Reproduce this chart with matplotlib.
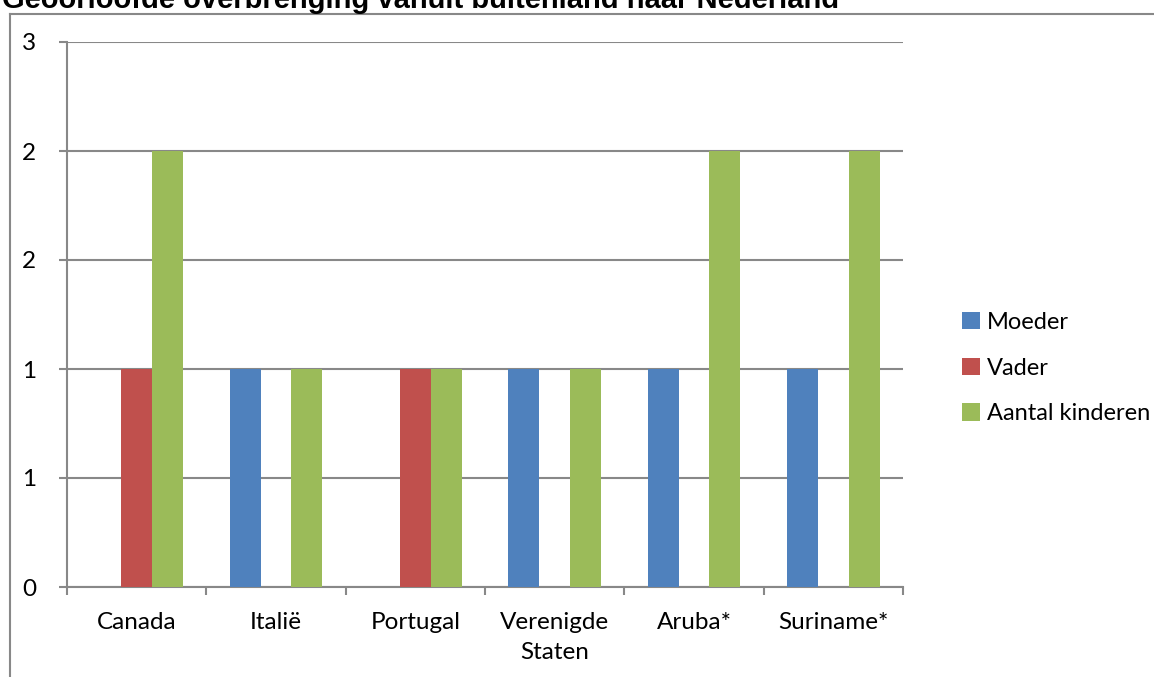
import matplotlib.pyplot as plt
import numpy as np
from matplotlib.lines import Line2D

# Data
landen = ["Canada", "Italië", "Portugal", "Verenigde\nStaten", "Aruba*", "Suriname*"]
moeder = [0, 1, 0, 1, 1, 1]
vader = [1, 0, 1, 0, 0, 0]
kinderen = [2, 1, 1, 1, 2, 2]
y_ticks = [0, 0.5, 1, 1.5, 2, 2.5]
y_labels = ["0", "1", "1", "2", "2", "3"]

series = [("Moeder", moeder, "#4F81BD"),
          ("Vader", vader, "#C0504D"),
          ("Aantal kinderen", kinderen, "#9BBB59")]

plt.rcParams['font.family'] = ['Lato', 'DejaVu Sans']
W, H = 1154, 677
fig = plt.figure(figsize=(W / 100, H / 100), dpi=100)
ax = fig.add_axes([67 / W, 1 - 587 / H, (903 - 67) / W, (587 - 42) / H])

x = np.arange(len(landen))
bw = 1 / 4.5  # gap width 150%
for i, (name, vals, col) in enumerate(series):
    ax.bar(x + (i - 1) * bw, vals, width=bw, color=col, label=name, zorder=3)

ax.set_xlim(-0.5, len(landen) - 0.5)
ax.set_ylim(0, 2.5)
ax.set_yticks(y_ticks)
ax.set_yticklabels(y_labels)
ax.yaxis.grid(True, color="#888888", linewidth=1.5, zorder=0)
ax.set_xticks(x)
ax.set_xticklabels(landen, linespacing=1.55)
ax.set_xticks(np.arange(len(landen) + 1) - 0.5, minor=True)
ax.tick_params(axis='x', which='major', length=0, pad=18, labelsize=17.5)
ax.tick_params(axis='x', which='minor', length=6, width=1.5, color="#888888")
ax.tick_params(axis='y', length=6, width=1.5, color="#888888", pad=16, labelsize=17.5)

for s in ['top', 'right']:
    ax.spines[s].set_visible(False)
for s in ['left', 'bottom']:
    ax.spines[s].set_color("#888888")
    ax.spines[s].set_linewidth(1.5)

ax.legend(loc='center left', bbox_to_anchor=(953 / W, 1 - 368 / H),
          bbox_transform=fig.transFigure, frameon=False, fontsize=17,
          handlelength=0.75, handleheight=0.75, handletextpad=0.3,
          labelspacing=1.05, borderaxespad=0)

# outer chart border (partly cropped)
fig.add_artist(Line2D([10 / W, 10 / W], [0, 1 - 14 / H], color="#888888", lw=1.5))
fig.add_artist(Line2D([10 / W, 1], [1 - 14 / H, 1 - 14 / H], color="#888888", lw=1.5))

fig.text(2 / W, 1 - 8 / H, "Geoorloofde overbrenging vanuit buitenland naar Nederland",
         family="Liberation Sans", fontweight="bold", fontsize=21, va="baseline")

fig.savefig("out.png", dpi=100)
